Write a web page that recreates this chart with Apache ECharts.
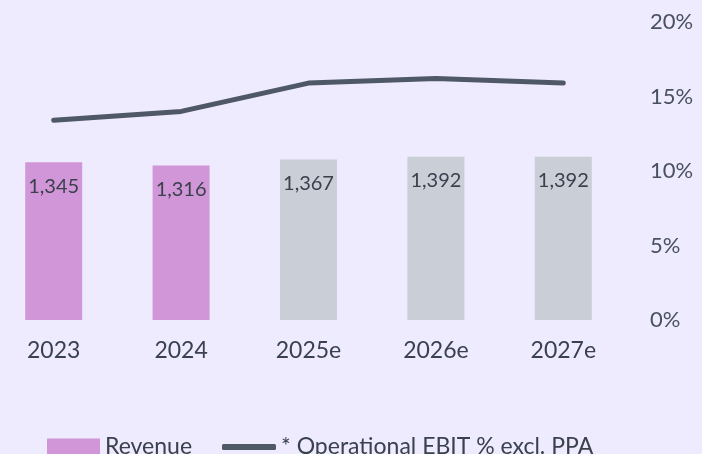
<!DOCTYPE html>
<html>
<head>
<meta charset="utf-8">
<script src="https://cdn.jsdelivr.net/npm/echarts@6/dist/echarts.min.js"></script>
<style>
  html, body { margin: 0; padding: 0; background: #edebfd; overflow: hidden; }
  #chart { width: 712px; height: 454px; margin-left: -10px; }
</style>
</head>
<body>
<div id="chart"></div>
<script>
const years = ["2023", "2024", "2025e", "2026e", "2027e"];
const revenue = [1345, 1316, 1367, 1392, 1392];
const ebitPct = [13.4, 14.0, 15.9, 16.2, 15.9];
const forecast = [false, false, true, true, true];

const pink = "#d196d8";
const grey = "#c9ced7";
const lineColor = "#4e5866";
const textColor = "#3a414d";
const fontFamily = "Lato, 'Noto Sans', sans-serif";

const chart = echarts.init(document.getElementById("chart"));

const option = {
  backgroundColor: "#edebfd",
  textStyle: { fontFamily: fontFamily },
  grid: { left: 0, right: 75, top: 22, bottom: 134 },
  legend: [
    {
      left: 57,
      top: 435,
      padding: 0,
      itemWidth: 53,
      itemHeight: 24,
      formatter: "{a|{name}}",
      textStyle: {
        color: textColor,
        fontFamily: fontFamily,
        rich: {
          a: {
            fontSize: 23,
            lineHeight: 24,
            color: textColor,
            fontFamily: fontFamily,
            padding: [0, 0, 8, 0],
          },
        },
      },
      data: [{ name: "Revenue", icon: "rect" }],
    },
    {
      left: 232,
      top: 433,
      padding: 0,
      itemWidth: 54,
      itemHeight: 6,
      textStyle: {
        fontSize: 23,
        lineHeight: 24,
        color: textColor,
        fontFamily: fontFamily,
        padding: [0, 0, 4, 0],
      },
      data: [{ name: "* Operational EBIT % excl. PPA", icon: "roundRect" }],
    },
  ],
  xAxis: {
    type: "category",
    data: years,
    axisLine: { show: false },
    axisTick: { show: false },
    axisLabel: { fontSize: 23, color: textColor, margin: 19 },
  },
  yAxis: [
    {
      type: "value",
      min: 0,
      max: 2540,
      show: false,
      splitLine: { show: false },
    },
    {
      type: "value",
      position: "right",
      min: 0,
      max: 20,
      interval: 5,
      axisLine: { show: false },
      axisTick: { show: false },
      splitLine: { show: false },
      axisLabel: {
        formatter: "{value}%",
        fontSize: 22,
        color: "#4a515e",
        margin: 23,
      },
    },
  ],
  series: [
    {
      name: "Revenue",
      type: "bar",
      yAxisIndex: 0,
      barWidth: 57,
      itemStyle: { color: pink },
      label: {
        show: true,
        position: "insideTop",
        distance: 14,
        fontSize: 20,
        color: textColor,
        formatter: (p) => p.value.toLocaleString("en-US"),
      },
      data: revenue.map((v, i) => ({
        value: v,
        itemStyle: { color: forecast[i] ? grey : pink },
      })),
    },
    {
      name: "* Operational EBIT % excl. PPA",
      type: "line",
      yAxisIndex: 1,
      symbol: "none",
      lineStyle: { color: lineColor, width: 5, cap: "round" },
      itemStyle: { color: lineColor },
      data: ebitPct,
    },
  ],
};

chart.setOption(option);
</script>
</body>
</html>
